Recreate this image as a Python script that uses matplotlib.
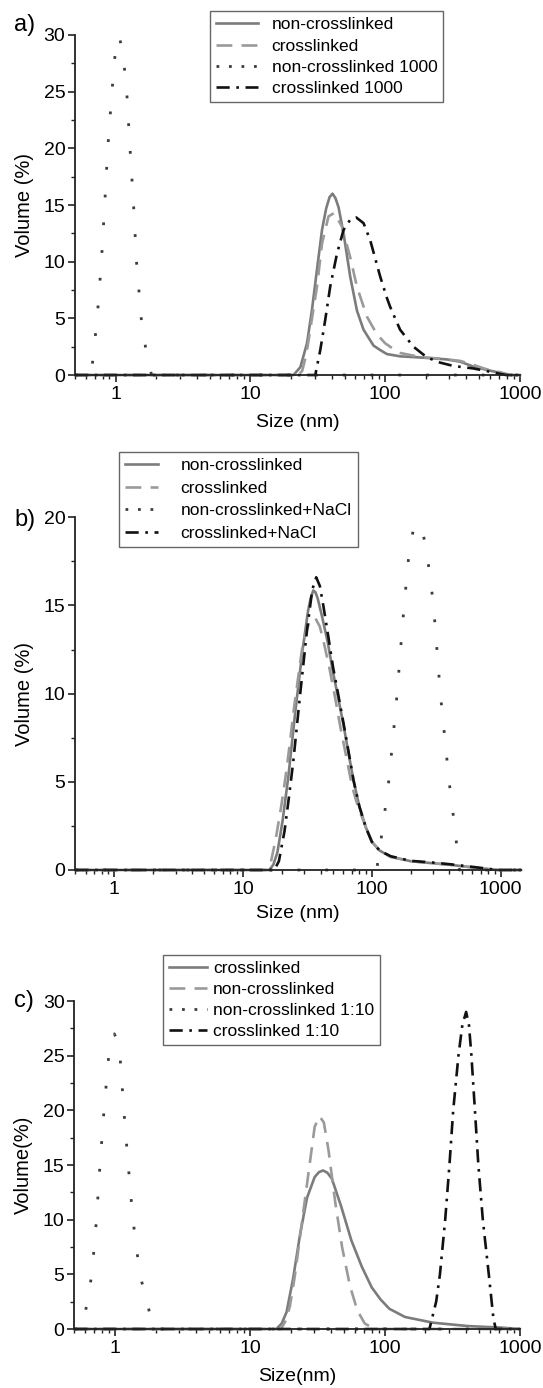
import matplotlib
matplotlib.use("Agg")
import matplotlib.pyplot as plt
from matplotlib.lines import Line2D
from matplotlib.ticker import MultipleLocator, LogLocator, NullFormatter

plt.rcParams['font.family'] = ['Liberation Sans', 'DejaVu Sans']

# ---- panel a ----
a_labels = ["non-crosslinked", "crosslinked", "non-crosslinked 1000", "crosslinked 1000"]
a_noncl_x = [0.5, 20.9, 23.5, 26.3, 28.6, 31.2, 34, 36.5, 38.7, 40.7, 42.8, 45.1, 49.1, 55, 61.7, 69.1, 81.9, 92, 103, 129, 181, 286, 359, 451, 567, 711, 817, 1000]
a_noncl_y = [0, 0, 0.7, 2.8, 5.7, 9.3, 12.8, 14.7, 15.7, 16.0, 15.6, 14.8, 12.5, 8.7, 5.7, 4.0, 2.6, 2.2, 1.85, 1.65, 1.55, 1.38, 1.18, 0.75, 0.45, 0.2, 0, 0]
a_cl_x = [0.5, 22.5, 24.2, 26, 27.8, 31.2, 34, 38, 41.9, 47.8, 55, 61.7, 73.2, 86.8, 100, 115, 129, 180, 250, 300, 360, 450, 567, 711, 850, 1000]
a_cl_y = [0, 0, 0.35, 1.8, 4.0, 7.8, 11.6, 14.0, 14.3, 13.1, 10.4, 7.8, 5.15, 3.6, 2.8, 2.3, 1.95, 1.6, 1.45, 1.35, 1.25, 0.9, 0.5, 0.25, 0, 0]
a_noncl1000_x = [0.5, 0.66, 0.73, 0.785, 0.83, 0.875, 0.94, 1.0, 1.06, 1.13, 1.21, 1.28, 1.36, 1.43, 1.55, 1.7, 1.85, 1000]
a_noncl1000_y = [0, 0, 5, 10, 15, 20, 25, 28.8, 29.9, 28.6, 25, 20, 15, 10, 5, 1.8, 0, 0]
a_cl1000_x = [0.5, 30.3, 33, 35.9, 39.1, 43.9, 49.1, 55, 61, 69.1, 77.4, 91.8, 103, 109, 129, 162, 204, 255, 321, 451, 567, 680, 790, 1000]
a_cl1000_y = [0, 0, 2.2, 4.85, 7.8, 10.7, 12.8, 13.7, 13.9, 13.4, 11.9, 8.7, 6.8, 6.0, 4.0, 2.5, 1.56, 1.1, 0.8, 0.58, 0.35, 0.15, 0, 0]

# ---- panel b ----
b_labels = ["non-crosslinked", "crosslinked", "non-crosslinked+NaCl", "crosslinked+NaCl"]
b_noncl_x = [0.5, 16.0, 17.2, 18.5, 20.3, 22.5, 25.4, 28.9, 32, 33.5, 35.1, 36.5, 38, 41, 45.5, 50, 55, 60, 66, 72, 80, 90, 100, 115, 140, 200, 300, 400, 600, 800, 950, 1437]
b_noncl_y = [0, 0, 0.3, 1.0, 2.8, 5.3, 8.9, 12.4, 14.7, 15.4, 15.85, 15.75, 15.4, 14.4, 12.9, 11.2, 9.7, 8.3, 6.6, 5.1, 3.6, 2.4, 1.6, 1.1, 0.75, 0.5, 0.38, 0.3, 0.15, 0.05, 0, 0]
b_cl_x = [0.5, 15.0, 16.4, 17.9, 19.8, 21.9, 24.9, 29.2, 32.5, 36.3, 39.5, 43, 47, 51.8, 57, 63.8, 70, 75, 80, 90, 100, 115, 140, 200, 300, 400, 600, 800, 950, 1437]
b_cl_y = [0, 0, 0.4, 1.7, 3.6, 5.8, 9.2, 12.9, 14.0, 14.3, 13.8, 12.7, 11.4, 9.8, 8.1, 6.3, 4.8, 4.0, 3.4, 2.4, 1.6, 1.1, 0.75, 0.5, 0.38, 0.3, 0.15, 0.05, 0, 0]
b_noncl_nacl_x = [0.5, 109, 122, 135, 146, 157, 167, 178, 195, 210, 228, 246, 266, 283, 301, 320, 340, 368, 398, 440, 478, 1437]
b_noncl_nacl_y = [0, 0, 2.5, 5, 7.5, 10, 12.5, 15, 18.1, 19.3, 19.66, 19.3, 18.1, 16.6, 15, 12.5, 10, 7.5, 5, 2.4, 0, 0]
b_cl_nacl_x = [0.5, 17.5, 19, 21, 22.8, 24.6, 27.8, 31.4, 34.5, 37, 39.5, 42, 45.8, 50, 55, 60, 66, 72, 80, 90, 100, 115, 140, 200, 300, 400, 600, 800, 950, 1437]
b_cl_nacl_y = [0, 0, 0.5, 2.2, 4.2, 6.2, 10.0, 13.6, 15.9, 16.6, 16.1, 15.0, 13.3, 11.5, 9.9, 8.4, 6.7, 5.1, 3.6, 2.4, 1.6, 1.1, 0.78, 0.52, 0.42, 0.33, 0.18, 0.07, 0, 0]

# ---- panel c ----
c_labels = ["crosslinked", "non-crosslinked", "non-crosslinked 1:10", "crosslinked 1:10"]
c_cl_x = [0.5, 15.7, 17.2, 18.7, 20.9, 23.5, 26.5, 30.2, 32.5, 34.8, 37.5, 40.5, 47.5, 56.5, 67.5, 80, 93, 108, 141, 227, 412, 746, 1000]
c_cl_y = [0, 0, 0.5, 1.55, 4.6, 8.6, 12.0, 13.9, 14.35, 14.5, 14.3, 13.75, 11.2, 8.1, 5.7, 3.8, 2.7, 1.85, 1.1, 0.58, 0.27, 0.12, 0]
c_noncl_x = [0.5, 17.0, 18.5, 19.8, 21.5, 24.2, 27.2, 30.2, 32.8, 35.3, 38.2, 42.9, 48.2, 55, 62.5, 71, 84, 1000]
c_noncl_y = [0, 0, 0.8, 2.1, 4.8, 9.6, 14.3, 18.5, 19.45, 18.9, 16.4, 11.6, 7.5, 4.0, 1.7, 0.5, 0, 0]
c_noncl110_x = [0.5, 0.575, 0.675, 0.73, 0.775, 0.83, 0.90, 0.94, 0.99, 1.04, 1.09, 1.165, 1.255, 1.36, 1.53, 1.94, 1000]
c_noncl110_y = [0, 0, 5, 10, 15, 20, 25, 26.3, 27.0, 26.4, 25, 20, 15, 10, 5, 0, 0]
c_cl110_x = [0.5, 214, 240, 256, 280, 301, 321, 351, 375, 400, 420, 438, 465, 493, 532, 589, 637, 663, 1000]
c_cl110_y = [0, 0, 2.5, 5, 10, 15, 20, 25, 27.8, 29.0, 27.8, 25, 20, 15, 10, 5, 1, 0, 0]

SOLID = dict(color="#7c7c7c", ls="-", lw=1.9)
DASH = dict(color="#9a9a9a", ls=(0, (6, 3.5)), lw=1.9)
DOT = dict(color="#3c3c3c", ls=(0, (1, 9)), lw=2.0)
DOT_LEG = dict(color="#3c3c3c", ls=(0, (1, 3.5)), lw=2.0)
DASHDOT = dict(color="#111111", ls=(0, (5, 2.5, 1, 2.5)), lw=1.9)


def setup(ax, xmax, ymax, xlab, ylab, xlab_y):
    ax.set_xscale("log")
    ax.set_xlim(0.5, xmax)
    ax.set_ylim(0, ymax)
    for s in ["top", "right"]:
        ax.spines[s].set_visible(False)
    for s in ["left", "bottom"]:
        ax.spines[s].set_linewidth(1.3)
        ax.spines[s].set_color("#222222")
    ax.set_xticks([1, 10, 100, 1000])
    ax.set_xticklabels(["1", "10", "100", "1000"])
    ax.xaxis.set_minor_locator(LogLocator(base=10, subs=range(2, 10)))
    ax.xaxis.set_minor_formatter(NullFormatter())
    ax.yaxis.set_major_locator(MultipleLocator(5))
    ax.yaxis.set_minor_locator(MultipleLocator(2.5))
    ax.tick_params(which="major", direction="out", length=5, width=1.2,
                   labelsize=14, color="#222222")
    ax.tick_params(which="minor", direction="out", length=3, width=1.0, color="#222222")
    ax.tick_params(axis="y", pad=2)
    ax.tick_params(axis="x", pad=3)
    ax.set_xlabel(xlab, fontsize=14)
    ax.set_ylabel(ylab, fontsize=14.5)
    ax.xaxis.set_label_coords(0.5, xlab_y)
    ax.yaxis.set_label_coords(-0.092, 0.5)


def draw(ax, curves, labels, anchor, fig, hl, htp, ls):
    styles = [SOLID, DASH, DOT, DASHDOT]
    for (x, y), st in zip(curves, styles):
        ax.plot(x, y, clip_on=False, **st)
    handles = [Line2D([], [], **SOLID), Line2D([], [], **DASH),
               Line2D([], [], **DOT_LEG), Line2D([], [], **DASHDOT)]
    leg = ax.legend(handles, labels, loc="upper left", bbox_to_anchor=anchor,
                    bbox_transform=fig.transFigure, fontsize=12.5, frameon=True,
                    fancybox=False, framealpha=1, edgecolor="#666666",
                    labelspacing=ls, handlelength=hl, handletextpad=htp,
                    borderpad=0.35, borderaxespad=0)
    leg.get_frame().set_linewidth(1.0)


fig = plt.figure(figsize=(5.43, 13.88), dpi=100)

ax_a = fig.add_axes([0.1381, 0.7298, 0.8195, 0.245])
setup(ax_a, 1000, 30, "Size (nm)", "Volume (%)", -0.115)
draw(ax_a, [(a_noncl_x, a_noncl_y), (a_cl_x, a_cl_y),
            (a_noncl1000_x, a_noncl1000_y), (a_cl1000_x, a_cl1000_y)],
     a_labels, (0.3867, 0.9921), fig, 2.4, 0.8, 0.36)

ax_b = fig.add_axes([0.1387, 0.3732, 0.8208, 0.2541])
setup(ax_b, 1437, 20, "Size (nm)", "Volume (%)", -0.1)
draw(ax_b, [(b_noncl_x, b_noncl_y), (b_cl_x, b_cl_y),
            (b_noncl_nacl_x, b_noncl_nacl_y), (b_cl_nacl_x, b_cl_nacl_y)],
     b_labels, (0.2192, 0.6744), fig, 1.9, 1.3, 0.43)

ax_c = fig.add_axes([0.1368, 0.0425, 0.8205, 0.2363])
setup(ax_c, 1000, 30, "Size(nm)", "Volume(%)", -0.12)
draw(ax_c, [(c_cl_x, c_cl_y), (c_noncl_x, c_noncl_y),
            (c_noncl110_x, c_noncl110_y), (c_cl110_x, c_cl110_y)],
     c_labels, (0.2994, 0.3120), fig, 2.2, 0.37, 0.33)

fig.text(0.0258, 0.982, "a)", fontsize=17, va="center", ha="left")
fig.text(0.0258, 0.6254, "b)", fontsize=17, va="center", ha="left")
fig.text(0.0258, 0.2788, "c)", fontsize=17, va="center", ha="left")

fig.savefig("out.png", dpi=100)
